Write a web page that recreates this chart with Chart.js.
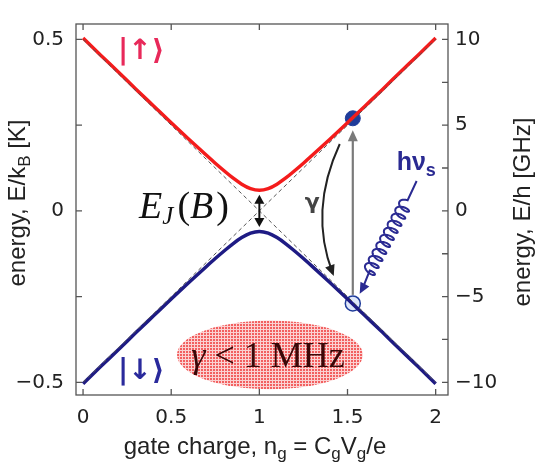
<!DOCTYPE html>
<html>
<head>
<meta charset="utf-8">
<script src="https://cdn.jsdelivr.net/npm/chart.js@4.4.1/dist/chart.umd.min.js"></script>
<style>
  html, body { margin: 0; padding: 0; background: #fff; }
  #wrap { width: 538px; height: 464px; }
</style>
</head>
<body>
<div id="wrap"><canvas id="myChart" width="538" height="464"></canvas></div>
<script>
// values
const gateCharge  = [0, 0.1, 0.2, 0.3, 0.4, 0.5, 0.6, 0.7, 0.75, 0.8, 0.85, 0.9, 0.95, 1, 1.05, 1.1, 1.15, 1.2, 1.25, 1.3, 1.4, 1.5, 1.6, 1.7, 1.8, 1.9, 2];
const upperEnergy = [0.504, 0.454, 0.405, 0.355, 0.306, 0.257, 0.209, 0.162, 0.139, 0.117, 0.096, 0.078, 0.065, 0.06, 0.065, 0.078, 0.096, 0.117, 0.139, 0.162, 0.209, 0.257, 0.306, 0.355, 0.405, 0.454, 0.504];
const lowerEnergy = [-0.504, -0.454, -0.405, -0.355, -0.306, -0.257, -0.209, -0.162, -0.139, -0.117, -0.096, -0.078, -0.065, -0.06, -0.065, -0.078, -0.096, -0.117, -0.139, -0.162, -0.209, -0.257, -0.306, -0.355, -0.405, -0.454, -0.504];
const asymCharge  = [0, 1, 2];
const asymFalling = [0.5, 0, -0.5];
const asymRising  = [-0.5, 0, 0.5];
const markerCharge = [1.53];
const markerUpper  = [0.27];
const markerLower  = [-0.27];

const xTicks  = [0, 0.5, 1, 1.5, 2];
const yTicks  = [-0.5, 0, 0.5];
const y2Ticks = [-10, -5, 0, 5, 10];
const yMinor  = [-0.5, -0.25, 0, 0.25, 0.5];
const y2Minor = [-10, -7.5, -5, -2.5, 0, 2.5, 5, 7.5, 10];

const pts = (xs, ys) => xs.map((v, i) => ({ x: v, y: ys[i] }));
const fmt = v => (v < 0 ? '\u2212' + Math.abs(v) : String(v));

const RED = '#f41c1c';
const NAVY = '#1e1b84';
const DOT = '#1f3c9a';
const SANS = '"DejaVu Sans", sans-serif';
const HELV = '"Liberation Sans", Arial, sans-serif';
const SERIF = '"Liberation Serif", serif';

// annotation positions (data units)
const notes = {
  upKet:   { x: 0.33, y: 0.474 },
  downKet: { x: 0.33, y: -0.466 },
  ej:      { x: 0.318, y: -0.02 },
  gammaArrow: { x0: 1.456, y0: 0.195, cx: 1.28, cy: 0.0, x1: 1.416, y1: -0.182 },
  gammaLabel: { x: 1.30, y: 0.025 },
  photon:  { tx: 1.892, ty: 0.087, sx: 1.841, sy: 0.031, ex: 1.626, ey: -0.174, hx: 1.569, hy: -0.242 },
  hv:      { x: 1.779, y: 0.119 },
  ellipse: { x: 1.06, y: -0.42, rx: 0.527, ry: 0.1 }
};

function drawParts(ctx, parts, x, y, align) {
  let total = 0;
  parts.forEach(p => { ctx.font = p.f; total += ctx.measureText(p.t).width + (p.gap || 0); });
  let xx = align === 'center' ? x - total / 2 : x;
  ctx.textAlign = 'left';
  ctx.textBaseline = 'alphabetic';
  parts.forEach(p => {
    ctx.font = p.f;
    xx += p.gap || 0;
    ctx.fillText(p.t, xx, y + (p.dy || 0));
    xx += ctx.measureText(p.t).width;
  });
}

function arrowHead(ctx, x, y, ang, len, half) {
  ctx.beginPath();
  ctx.moveTo(x, y);
  ctx.lineTo(x - len * Math.cos(ang) + half * Math.sin(ang), y - len * Math.sin(ang) - half * Math.cos(ang));
  ctx.lineTo(x - len * Math.cos(ang) - half * Math.sin(ang), y - len * Math.sin(ang) + half * Math.cos(ang));
  ctx.closePath();
  ctx.fill();
}

function redPattern(ctx) {
  const c = document.createElement('canvas');
  c.width = 3; c.height = 3;
  const g = c.getContext('2d');
  g.fillStyle = '#fbd2d2';
  g.fillRect(0, 0, 3, 3);
  g.fillStyle = '#f26060';
  g.fillRect(0, 0, 2, 2);
  return ctx.createPattern(c, 'repeat');
}

const decor = {
  id: 'decor',
  afterDatasetsDraw(chart) {
    const { ctx, scales: { x, y } } = chart;
    const px = v => x.getPixelForValue(v);
    const py = v => y.getPixelForValue(v);
    ctx.save();

    // ellipse
    const e = notes.ellipse;
    ctx.beginPath();
    ctx.ellipse(px(e.x), py(e.y), px(e.x + e.rx) - px(e.x), py(e.y - e.ry) - py(e.y), 0, 0, Math.PI * 2);
    ctx.fillStyle = redPattern(ctx);
    ctx.fill();
    ctx.fillStyle = '#3a0808';
    drawParts(ctx, [
      { t: '\u03b3', f: 'italic 36px ' + SERIF },
      { t: ' < ', f: '36px ' + SERIF },
      { t: '1 MHz', f: '36px ' + SERIF }
    ], px(e.x) - 2, py(e.y) + 12, 'center');

    // kets
    ctx.fillStyle = '#e8295a';
    drawParts(ctx, [{ t: '|\u2191\u27e9', f: 'bold 28px ' + SANS }], px(notes.upKet.x), py(notes.upKet.y) + 11, 'center');
    ctx.fillStyle = '#2a2a9c';
    drawParts(ctx, [{ t: '|\u2193\u27e9', f: 'bold 28px ' + SANS }], px(notes.downKet.x), py(notes.downKet.y) + 8, 'center');

    // E_J(B)
    ctx.fillStyle = '#111';
    drawParts(ctx, [
      { t: 'E', f: 'italic 38px ' + SERIF },
      { t: 'J', f: 'italic 25px ' + SERIF, dy: 6 },
      { t: '(', f: '38px ' + SERIF, gap: 4 },
      { t: 'B', f: 'italic 38px ' + SERIF },
      { t: ')', f: '38px ' + SERIF, gap: 3 }
    ], px(notes.ej.x), py(notes.ej.y), 'left');

    // double arrow for E_J
    const xa = px(1), ya = py(0.047), yb = py(-0.047);
    ctx.strokeStyle = '#111'; ctx.fillStyle = '#111'; ctx.lineWidth = 2;
    ctx.beginPath(); ctx.moveTo(xa, ya + 6); ctx.lineTo(xa, yb - 6); ctx.stroke();
    arrowHead(ctx, xa, ya, -Math.PI / 2, 9, 5);
    arrowHead(ctx, xa, yb, Math.PI / 2, 9, 5);

    // vertical transition arrow
    const vx = px(markerCharge[0]);
    ctx.strokeStyle = '#7a7a7a'; ctx.fillStyle = '#7a7a7a'; ctx.lineWidth = 2.2;
    ctx.beginPath(); ctx.moveTo(vx, py(-0.245)); ctx.lineTo(vx, py(0.22)); ctx.stroke();
    arrowHead(ctx, vx, py(0.235), -Math.PI / 2, 11, 5);

    // gamma relaxation arrow
    const g = notes.gammaArrow;
    ctx.strokeStyle = '#222'; ctx.fillStyle = '#222'; ctx.lineWidth = 2;
    ctx.beginPath();
    ctx.moveTo(px(g.x0), py(g.y0));
    ctx.quadraticCurveTo(px(g.cx), py(g.cy), px(g.x1), py(g.y1));
    ctx.stroke();
    const ang = Math.atan2(py(g.y1) - py(g.cy), px(g.x1) - px(g.cx));
    arrowHead(ctx, px(g.x1) + 3 * Math.cos(ang), py(g.y1) + 3 * Math.sin(ang), ang, 11, 5);
    ctx.fillStyle = '#444';
    drawParts(ctx, [{ t: '\u03b3', f: 'bold 22px ' + SANS }], px(notes.gammaLabel.x), py(notes.gammaLabel.y) + 7, 'center');

    // photon (coiled line)
    const ph = notes.photon;
    const sx = px(ph.sx), sy = py(ph.sy), ex = px(ph.ex), ey = py(ph.ey);
    const L = Math.hypot(ex - sx, ey - sy), ux = (ex - sx) / L, uy = (ey - sy) / L;
    const nx = -uy, ny = ux;
    ctx.strokeStyle = '#2a2a92'; ctx.fillStyle = '#2a2a92'; ctx.lineWidth = 2;
    ctx.beginPath();
    ctx.moveTo(px(ph.tx), py(ph.ty));
    ctx.lineTo(sx, sy);
    const N = 10, c = 3.2, a = 6.5;
    for (let i = 0; i <= 600; i++) {
      const s = i / 600, th = 2 * Math.PI * N * s;
      const al = L * s + c * (1 - Math.cos(th));
      const pe = a * Math.sin(th);
      ctx.lineTo(sx + ux * al + nx * pe, sy + uy * al + ny * pe);
    }
    ctx.lineTo(px(ph.hx) - 6 * ux, py(ph.hy) - 6 * uy);
    ctx.stroke();
    arrowHead(ctx, px(ph.hx), py(ph.hy), Math.atan2(uy, ux), 11, 5);
    drawParts(ctx, [
      { t: 'h\u03bd', f: 'bold 25px ' + HELV },
      { t: 's', f: 'bold 18px ' + HELV, dy: 6 }
    ], px(notes.hv.x), py(notes.hv.y), 'left');

    ctx.restore();
  },
  afterDraw(chart) {
    const { ctx, chartArea: ar, scales: { x, y, y2 } } = chart;
    ctx.save();
    ctx.strokeStyle = '#555';
    ctx.lineWidth = 1.3;
    ctx.strokeRect(ar.left, ar.top, ar.right - ar.left, ar.bottom - ar.top);
    ctx.beginPath();
    const t = 6;
    xTicks.forEach(v => {
      const p = x.getPixelForValue(v);
      ctx.moveTo(p, ar.bottom); ctx.lineTo(p, ar.bottom - t);
      ctx.moveTo(p, ar.top); ctx.lineTo(p, ar.top + t);
    });
    yMinor.forEach(v => {
      const p = y.getPixelForValue(v);
      ctx.moveTo(ar.left, p); ctx.lineTo(ar.left + t, p);
    });
    y2Minor.forEach(v => {
      const p = y2.getPixelForValue(v);
      ctx.moveTo(ar.right, p); ctx.lineTo(ar.right - t, p);
    });
    ctx.stroke();

    // axis titles
    ctx.fillStyle = '#222';
    const f = '24px ' + HELV, fs = '17px ' + HELV;
    drawParts(ctx, [
      { t: 'gate charge, n', f: f }, { t: 'g', f: fs, dy: 5 },
      { t: ' = C', f: f }, { t: 'g', f: fs, dy: 5 },
      { t: 'V', f: f }, { t: 'g', f: fs, dy: 5 }, { t: '/e', f: f }
    ], 255, 454, 'center');

    ctx.save();
    ctx.translate(17, 203);
    ctx.rotate(-Math.PI / 2);
    drawParts(ctx, [{ t: 'energy, E/k', f: f }, { t: 'B', f: fs, dy: 5 }, { t: ' [K]', f: f }], 0, 8, 'center');
    ctx.restore();

    ctx.save();
    ctx.translate(522, 212);
    ctx.rotate(-Math.PI / 2);
    drawParts(ctx, [{ t: 'energy, E/h [GHz]', f: f }], 0, 8, 'center');
    ctx.restore();

    ctx.restore();
  }
};

const tickFont = { family: SANS, size: 20 };
const ctx = document.getElementById('myChart').getContext('2d');
window.myChart = new Chart(ctx, {
  type: 'line',
  data: {
    datasets: [
      { data: pts(asymCharge, asymFalling), borderColor: '#555', borderWidth: 1, borderDash: [4, 3], pointRadius: 0, yAxisID: 'y' },
      { data: pts(asymCharge, asymRising), borderColor: '#555', borderWidth: 1, borderDash: [4, 3], pointRadius: 0, yAxisID: 'y' },
      { data: pts(gateCharge, upperEnergy), borderColor: RED, borderWidth: 3.5, pointRadius: 0, cubicInterpolationMode: 'monotone', yAxisID: 'y' },
      { data: pts(gateCharge, lowerEnergy), borderColor: NAVY, borderWidth: 3.5, pointRadius: 0, cubicInterpolationMode: 'monotone', yAxisID: 'y' },
      { data: pts(markerCharge, markerUpper), showLine: false, pointRadius: 7.5, backgroundColor: DOT, borderColor: DOT, yAxisID: 'y' },
      { data: pts(markerCharge, markerLower), showLine: false, pointRadius: 7.5, backgroundColor: '#dfe7fa', borderColor: DOT, borderWidth: 1.5, yAxisID: 'y' }
    ]
  },
  options: {
    responsive: false,
    animation: false,
    devicePixelRatio: 1,
    layout: { padding: { top: 14, left: 0, right: 0, bottom: 0 } },
    plugins: { legend: { display: false }, tooltip: { enabled: false } },
    scales: {
      x: {
        type: 'linear', min: -0.04, max: 2.07,
        afterBuildTicks: s => { s.ticks = xTicks.map(v => ({ value: v })); },
        afterFit: s => { s.height = 69; },
        grid: { display: false, drawTicks: false }, border: { display: false },
        ticks: { font: tickFont, color: '#222', padding: 11, maxRotation: 0, autoSkip: false, callback: fmt }
      },
      y: {
        type: 'linear', position: 'left', min: -0.537, max: 0.545,
        afterBuildTicks: s => { s.ticks = yTicks.map(v => ({ value: v })); },
        afterFit: s => { s.width = 76; },
        grid: { display: false, drawTicks: false }, border: { display: false },
        ticks: { font: tickFont, color: '#222', padding: 12, autoSkip: false, callback: fmt }
      },
      y2: {
        type: 'linear', position: 'right', display: true, min: -10.74, max: 10.9,
        afterBuildTicks: s => { s.ticks = y2Ticks.map(v => ({ value: v })); },
        afterFit: s => { s.width = 90; },
        grid: { display: false, drawTicks: false }, border: { display: false },
        ticks: { font: tickFont, color: '#222', padding: 7, autoSkip: false, callback: fmt }
      }
    }
  },
  plugins: [decor]
});
</script>
</body>
</html>
